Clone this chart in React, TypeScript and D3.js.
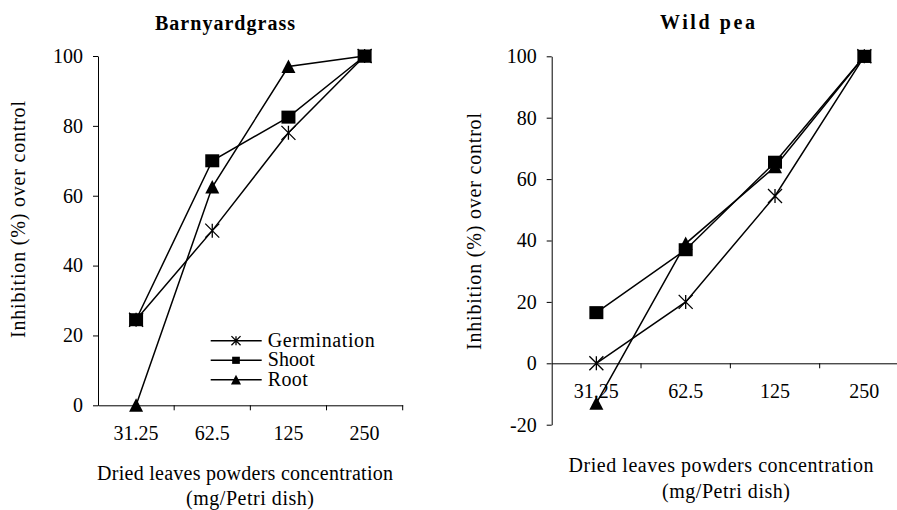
import React, { useEffect, useRef } from 'react';
import * as d3 from 'd3';

const categories = ['31.25', '62.5', '125', '250'];
const seriesNames = ['Germination', 'Shoot', 'Root'];

const barnyardGermination = [24.5, 50, 78, 100];
const barnyardShoot = [24.5, 70, 82.5, 100];
const barnyardRoot = [0, 62.5, 97, 100];

const wildPeaGermination = [0, 20, 54.5, 100];
const wildPeaShoot = [16.5, 37, 65.5, 100];
const wildPeaRoot = [-13, 39, 64, 100];

const barnyardTicks = [0, 20, 40, 60, 80, 100];
const wildPeaTicks = [-20, 0, 20, 40, 60, 80, 100];

const FONT = 'Liberation Serif, Times New Roman, DejaVu Serif, serif';
const markers = ['star', 'square', 'triangle'];

const panels = [
    {
        title: 'Barnyardgrass',
        titlePos: [225, 30, 140],
        series: [barnyardGermination, barnyardShoot, barnyardRoot],
        ticks: barnyardTicks,
        domain: [0, 100],
        yRange: [405.3, 56],
        xRange: [98, 402.7],
        yLabel: [25, 219.5],
        xTitle: [245, 480, 505, 296],
        legend: true,
    },
    {
        title: 'Wild pea',
        titlePos: [707.5, 29, 95],
        series: [wildPeaGermination, wildPeaShoot, wildPeaRoot],
        ticks: wildPeaTicks,
        domain: [-20, 100],
        yRange: [424.7, 56.3],
        xRange: [551.7, 909],
        yLabel: [481, 231.5],
        xTitle: [721, 471.7, 498, 305],
        legend: false,
    },
];

// Excel-like markers
const drawMarker = (g, type, cx, cy, k = 1) => {
    if (type === 'square') {
        g.append('rect')
            .attr('x', cx - 7 * k)
            .attr('y', cy - 6.5 * k)
            .attr('width', 14 * k)
            .attr('height', 13 * k)
            .attr('fill', '#000');
    } else if (type === 'triangle') {
        g.append('path')
            .attr('d', `M${cx},${cy - 7 * k}L${cx + 7 * k},${cy + 6.5 * k}L${cx - 7 * k},${cy + 6.5 * k}Z`)
            .attr('fill', '#000');
    } else {
        const r = 7 * k;
        g.append('path')
            .attr('d', `M${cx - r},${cy - r}L${cx + r},${cy + r}M${cx - r},${cy + r}L${cx + r},${cy - r}M${cx},${cy - r}L${cx},${cy + r}`)
            .attr('stroke', '#000')
            .attr('stroke-width', 1.3)
            .attr('fill', 'none');
    }
};

const drawPanel = (svg, p) => {
    const x = d3.scaleBand().domain(categories).range(p.xRange).padding(0);
    const y = d3.scaleLinear().domain(p.domain).range(p.yRange);
    const bw = x.bandwidth();
    const g = svg.append('g');

    // y axis
    g.append('g')
        .attr('transform', `translate(${p.xRange[0]},0)`)
        .call(
            d3.axisLeft(y)
                .tickValues(p.ticks)
                .tickSize(5)
                .tickSizeOuter(0)
                .tickPadding(10)
                .tickFormat((d) => String(d))
        )
        .attr('font-size', null)
        .attr('font-family', null)
        .call((a) => a.selectAll('line, path').attr('stroke', '#000'))
        .call((a) => a.selectAll('text').attr('fill', '#000'));

    // x axis sits at zero
    const y0 = y(0);
    g.append('g')
        .attr('transform', `translate(0,${y0})`)
        .call(d3.axisBottom(x).tickSize(0).tickSizeOuter(0).tickPadding(21))
        .attr('font-size', null)
        .attr('font-family', null)
        .call((a) => a.selectAll('path').attr('stroke', '#000'))
        .call((a) => a.selectAll('text').attr('fill', '#000'));

    g.selectAll('.xtick')
        .data(categories)
        .enter()
        .append('line')
        .attr('x1', (d) => x(d) + bw)
        .attr('x2', (d) => x(d) + bw)
        .attr('y1', y0)
        .attr('y2', y0 + 5)
        .attr('stroke', '#000');

    const line = d3
        .line()
        .x((d, i) => x(categories[i]) + bw / 2)
        .y((d) => y(d));

    p.series.forEach((s) => {
        g.append('path')
            .attr('d', line(s))
            .attr('fill', 'none')
            .attr('stroke', '#000')
            .attr('stroke-width', 1.5);
    });

    // markers: root, germination, shoot on top
    [2, 0, 1].forEach((si) => {
        p.series[si].forEach((v, i) => {
            drawMarker(g, markers[si], x(categories[i]) + bw / 2, y(v));
        });
    });

    // title
    g.append('text')
        .attr('x', p.titlePos[0])
        .attr('y', p.titlePos[1])
        .attr('text-anchor', 'middle')
        .attr('font-weight', 'bold')
        .attr('textLength', p.titlePos[2])
        .attr('lengthAdjust', 'spacing')
        .text(p.title);

    // y label
    g.append('text')
        .attr('transform', `translate(${p.yLabel[0]},${p.yLabel[1]}) rotate(-90)`)
        .attr('text-anchor', 'middle')
        .attr('textLength', 237)
        .attr('lengthAdjust', 'spacing')
        .text('Inhibition (%) over control');

    // x title
    g.append('text')
        .attr('x', p.xTitle[0])
        .attr('y', p.xTitle[1])
        .attr('text-anchor', 'middle')
        .attr('textLength', p.xTitle[3])
        .attr('lengthAdjust', 'spacing')
        .text('Dried leaves powders concentration');
    g.append('text')
        .attr('x', p.xTitle[0] + 5)
        .attr('y', p.xTitle[2])
        .attr('text-anchor', 'middle')
        .attr('textLength', 128)
        .attr('lengthAdjust', 'spacing')
        .text('(mg/Petri dish)');

    if (p.legend) {
        const rowY = [340.7, 360.3, 379.7];
        const sizes = [0.65, 0.55, 0.72];
        const widths = [107, 47, 40];
        seriesNames.forEach((name, i) => {
            g.append('line')
                .attr('x1', 210.7)
                .attr('x2', 261.7)
                .attr('y1', rowY[i])
                .attr('y2', rowY[i])
                .attr('stroke', '#000')
                .attr('stroke-width', 1.5);
            drawMarker(g, markers[i], 236, rowY[i], sizes[i]);
            g.append('text')
                .attr('x', 267.7)
                .attr('y', rowY[i] + 6)
                .attr('textLength', widths[i])
                .attr('lengthAdjust', 'spacing')
                .text(name);
        });
    }
};

const App = () => {
    const svgRef = useRef(null);

    useEffect(() => {
        const svg = d3.select(svgRef.current);
        svg.selectAll('*').remove();
        panels.forEach((p) => drawPanel(svg, p));
    }, []);

    return (
        <svg
            ref={svgRef}
            width={897}
            height={510}
            style={{
                position: 'absolute',
                left: 0,
                top: 0,
                background: '#fff',
                fontFamily: FONT,
                fontSize: 20,
            }}
        />
    );
};

export default App;
